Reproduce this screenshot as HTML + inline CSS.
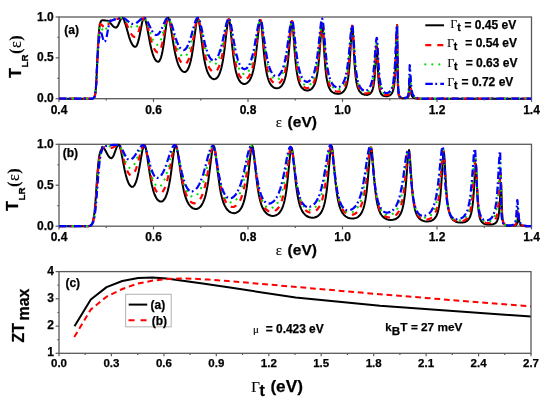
<!DOCTYPE html>
<html><head><meta charset="utf-8"><title>plot</title><style>html,body{margin:0;padding:0;background:#fff;width:550px;height:403px;overflow:hidden}svg{display:block;filter:blur(0.4px)}</style></head><body>
<svg width="550" height="403" viewBox="0 0 550 403">
<style>
text{font-family:"Liberation Sans",Arial,sans-serif;font-weight:bold;fill:#000;stroke:#000;stroke-width:0.25px}
.tl{font-size:12px}
.tlc{font-size:11.5px}
.sym{font-family:"Liberation Serif","Times New Roman",serif;font-weight:normal;stroke-width:0.15px}
</style>
<rect width="550" height="403" fill="#fff"/>
<defs>
<clipPath id="ca"><rect x="58.0" y="14.0" width="473.5" height="87.7"/></clipPath>
<rect x="59.0" y="17.0" width="472.5" height="81.7" fill="none" stroke="#5a5a5a" stroke-width="1.3"/>
<clipPath id="cb"><rect x="58.0" y="141.3" width="473.5" height="87.89999999999998"/></clipPath>
<rect x="59.0" y="144.3" width="472.5" height="81.89999999999998" fill="none" stroke="#5a5a5a" stroke-width="1.3"/>
</defs>
<rect x="59.0" y="17.0" width="472.5" height="81.7" fill="none" stroke="#5a5a5a" stroke-width="1.3"/>
<path d="M59.0 98.7L92.6 98.7L93.8 98.0L94.2 97.4L94.6 96.6L95.0 95.2L95.4 92.9L95.8 89.3L96.2 83.8L96.6 76.3L97.4 57.0L98.2 41.6L98.6 35.5L99.4 27.3L99.8 24.8L100.2 23.1L100.6 21.9L101.0 21.2L101.4 20.7L102.2 20.3L103.0 20.2L105.8 20.6L107.8 20.7L108.6 21.1L109.4 21.8L112.6 25.7L113.8 26.8L115.0 27.5L115.8 27.6L116.2 27.6L116.6 27.4L117.4 26.4L118.2 25.0L120.6 19.5L121.4 18.3L121.8 17.9L122.1 17.8L122.6 18.0L123.0 18.3L123.4 18.9L123.8 19.6L124.6 21.6L125.8 25.3L129.0 36.6L130.2 40.1L131.0 42.0L132.2 44.4L133.0 45.5L133.8 46.3L134.2 46.5L135.0 46.8L135.4 46.8L135.8 46.6L136.2 46.3L136.6 45.7L137.0 45.0L137.8 42.9L138.6 40.1L139.4 36.6L141.8 24.0L142.6 20.5L143.0 19.2L143.4 18.3L143.8 17.9L144.2 17.9L144.6 18.2L145.0 19.0L145.4 20.1L146.2 23.1L147.0 26.9L150.2 44.0L151.4 49.3L152.6 53.6L153.8 56.9L154.6 58.5L155.4 59.9L156.6 61.2L157.4 61.6L158.2 61.8L158.6 61.7L159.0 61.4L159.4 61.0L160.2 59.6L161.0 57.5L161.8 54.5L162.6 50.7L163.4 46.0L166.6 22.3L167.0 20.2L167.4 18.7L167.8 17.9L168.0 17.8L168.2 17.9L168.6 18.3L169.0 19.3L169.8 22.2L171.0 28.8L173.0 41.6L174.2 48.6L175.4 54.6L177.0 60.8L177.8 63.3L178.6 65.4L179.4 67.1L180.6 69.2L181.4 70.2L182.6 71.3L183.4 71.7L184.6 72.0L185.4 71.9L186.2 71.4L187.0 70.6L187.8 69.4L188.6 67.8L189.4 65.7L190.6 61.5L191.8 55.8L193.0 48.4L196.2 24.0L197.0 20.1L197.4 19.0L197.8 18.6L198.2 19.0L198.6 20.1L199.4 24.0L200.2 29.7L203.0 51.7L204.2 59.1L205.0 63.1L205.8 66.4L206.6 69.3L207.4 71.6L208.2 73.5L209.4 75.7L210.6 77.3L211.8 78.3L213.0 79.0L214.2 79.2L215.4 78.9L216.2 78.5L217.4 77.4L218.2 76.3L219.0 74.9L219.8 73.0L220.6 70.7L221.4 67.9L222.6 62.3L223.8 54.9L224.6 48.8L226.6 30.9L227.4 24.6L227.8 22.2L228.2 20.4L228.6 19.6L228.8 19.5L229.0 19.6L229.4 20.7L229.8 22.9L230.6 29.5L232.2 45.9L233.4 56.7L234.6 64.9L235.8 71.0L236.6 74.0L237.4 76.5L238.2 78.4L239.4 80.7L240.6 82.2L241.8 83.2L243.0 83.8L244.2 84.0L245.0 83.9L245.8 83.7L247.0 83.1L248.2 82.1L249.4 80.7L250.6 78.6L251.4 76.7L252.2 74.4L253.0 71.6L253.8 68.1L254.6 63.8L255.8 55.5L256.6 48.7L259.0 26.1L259.4 23.4L259.8 21.4L260.2 20.4L260.4 20.3L260.6 20.5L261.0 21.9L261.4 24.7L262.2 32.9L263.8 51.6L265.0 62.8L265.8 68.4L267.0 74.7L267.8 77.8L268.6 80.3L269.8 83.0L271.0 85.0L272.2 86.3L273.4 87.3L275.0 88.0L276.6 88.3L277.4 88.3L278.2 88.1L279.0 87.9L279.8 87.4L281.0 86.5L282.2 85.1L283.4 83.0L284.2 81.1L285.0 78.6L285.8 75.4L287.0 68.8L287.8 62.8L289.0 50.6L291.0 26.5L291.4 23.4L291.8 21.7L292.0 21.5L292.2 21.8L292.6 24.0L293.0 27.9L294.6 50.3L295.8 64.1L296.6 70.8L297.8 77.7L298.6 81.0L299.4 83.4L300.2 85.3L301.4 87.3L302.6 88.6L303.8 89.6L305.4 90.3L307.0 90.5L308.6 90.4L310.2 89.8L311.4 89.0L312.6 87.7L313.8 85.9L314.6 84.3L315.4 82.1L316.2 79.2L317.4 73.0L318.2 67.1L319.4 54.7L321.0 33.4L321.4 29.0L321.8 26.2L322.2 25.2L322.6 26.8L323.0 31.3L324.6 57.8L325.4 68.0L326.2 75.3L326.6 78.1L327.4 82.3L328.2 85.3L329.0 87.5L329.8 89.1L331.0 90.9L332.2 92.0L333.8 93.0L335.4 93.5L337.4 93.8L339.4 93.7L341.0 93.2L342.6 92.3L343.8 91.2L345.0 89.5L345.8 87.9L346.6 85.6L347.4 82.4L348.2 77.8L348.6 74.7L349.4 66.5L350.2 54.6L351.4 32.9L351.8 27.9L352.2 26.0L352.6 28.4L353.0 34.4L354.2 58.1L354.6 64.5L355.4 74.3L355.8 77.8L356.6 83.0L357.4 86.4L357.8 87.7L358.6 89.7L359.8 91.7L360.6 92.6L361.4 93.3L362.2 93.8L363.4 94.3L364.6 94.7L365.8 94.8L367.0 94.9L367.8 94.8L369.0 94.4L369.8 93.9L371.0 92.8L371.8 91.5L372.2 90.7L373.0 88.3L373.4 86.6L374.2 81.4L374.6 77.6L375.4 66.2L376.2 51.5L376.6 46.9L376.8 46.4L377.0 47.6L378.2 75.2L378.6 81.2L379.0 85.3L379.4 88.2L379.8 90.2L380.2 91.7L380.6 92.7L381.4 94.2L382.2 95.0L383.4 95.8L384.6 96.1L385.8 96.3L387.4 96.2L388.6 95.9L389.8 95.4L391.0 94.5L391.8 93.5L392.6 91.9L393.4 89.4L393.8 87.5L394.2 85.0L394.6 81.5L395.0 76.7L395.4 69.8L395.8 60.2L396.6 34.1L397.0 25.7L397.1 25.2L397.8 82.6L398.2 91.2L398.6 94.5L399.0 96.0L399.4 96.8L399.8 97.3L400.2 97.6L401.0 98.0L402.2 98.2L403.8 98.3L405.4 98.3L406.6 98.1L407.4 97.9L407.8 97.6L408.2 97.1L408.6 96.1L409.0 93.7L409.7 79.9L409.8 80.1L410.6 89.3L411.0 92.6L411.4 94.6L411.8 95.8L412.2 96.5L412.6 97.0L413.4 97.7L414.2 98.0L416.6 98.6L417.8 98.7L531.4 98.7" fill="none" stroke="#000000" stroke-width="2.0" stroke-linejoin="round" clip-path="url(#ca)"/>
<path d="M59.0 98.7L92.6 98.7L93.8 98.0L94.2 97.4L94.6 96.6L95.0 95.2L95.4 92.9L95.8 89.3L96.2 84.0L96.6 76.7L97.4 58.6L98.2 44.3L98.6 38.8L99.4 31.4L99.8 24.4L100.2 24.2L100.6 24.2L101.0 24.4L101.8 25.0L103.4 26.6L104.2 27.3L105.0 27.7L105.8 27.7L106.6 27.1L107.4 26.2L108.2 24.8L110.6 20.1L111.4 19.1L111.8 18.7L112.0 18.6L113.0 18.6L115.8 19.0L117.0 19.0L118.2 18.9L121.0 18.0L122.1 17.8L122.6 17.9L123.4 18.4L124.2 19.4L125.0 20.7L126.2 23.2L129.4 30.6L130.6 32.9L131.4 34.2L132.6 35.8L133.4 36.5L134.2 36.9L135.0 37.0L135.4 37.0L136.2 36.4L137.0 35.3L137.8 33.6L139.0 30.3L141.4 22.4L142.6 19.3L143.0 18.6L143.4 18.1L143.8 17.8L144.2 17.8L144.6 18.1L145.0 18.6L145.4 19.3L145.8 20.2L146.6 22.6L147.4 25.4L151.0 39.9L152.2 43.9L153.0 46.1L154.2 48.8L155.4 50.7L156.6 51.9L157.0 52.2L157.8 52.4L158.2 52.3L158.6 52.2L159.0 51.8L159.8 50.7L160.6 48.9L161.4 46.5L162.2 43.4L163.0 39.7L166.2 22.2L167.0 19.3L167.4 18.3L167.8 17.9L168.2 17.9L168.6 18.2L169.0 18.8L169.4 19.7L170.2 22.3L171.4 27.6L173.8 39.8L175.0 45.4L176.2 50.3L177.8 55.5L178.6 57.6L179.4 59.4L180.2 60.9L181.0 62.1L181.8 63.0L182.6 63.7L183.4 64.2L184.6 64.4L185.4 64.2L186.2 63.6L187.4 62.0L188.6 59.6L189.8 56.0L191.0 51.3L192.2 45.4L195.8 23.9L196.6 20.4L197.0 19.3L197.4 18.6L197.8 18.4L198.2 18.6L198.6 19.3L199.0 20.5L199.8 23.9L200.6 28.3L203.0 43.7L204.2 50.5L205.4 56.2L206.2 59.4L207.0 62.2L207.8 64.5L208.6 66.4L209.4 68.0L210.2 69.3L211.0 70.3L212.2 71.3L213.0 71.8L214.2 72.0L215.0 71.8L215.4 71.7L216.2 71.1L217.0 70.3L217.8 69.1L218.6 67.6L219.4 65.8L220.6 62.1L221.8 57.3L223.0 51.1L224.2 43.6L226.2 29.5L227.0 24.6L227.8 20.9L228.2 19.8L228.6 19.2L228.8 19.2L229.0 19.3L229.4 20.1L229.8 21.7L230.2 23.9L231.0 29.8L232.6 43.6L233.8 53.0L235.0 60.6L235.8 64.6L236.6 68.0L237.4 70.7L238.2 73.0L239.0 74.8L239.8 76.2L240.6 77.4L241.8 78.6L243.0 79.3L244.2 79.6L245.4 79.4L246.6 78.9L247.8 77.8L248.6 76.9L249.8 74.9L250.6 73.2L251.4 71.1L252.2 68.6L253.0 65.5L253.8 61.7L255.0 54.8L256.2 46.1L258.2 29.8L259.0 24.3L259.4 22.3L259.8 20.8L260.2 20.1L260.4 20.0L260.6 20.1L261.0 21.1L261.4 23.0L261.8 25.7L264.2 48.0L265.4 57.8L266.6 65.4L267.8 71.0L268.6 73.9L269.4 76.3L270.2 78.2L271.4 80.3L272.6 81.9L273.8 83.0L275.0 83.6L275.8 83.9L276.6 84.0L277.8 83.9L279.0 83.4L280.2 82.4L281.4 81.0L282.6 78.9L283.4 77.0L284.2 74.7L285.0 71.7L286.2 65.8L287.4 57.8L288.6 47.2L290.2 31.0L291.0 24.4L291.4 22.3L291.8 21.2L292.0 21.1L292.2 21.3L292.6 23.0L293.0 26.0L295.0 49.9L296.2 62.1L297.0 68.2L298.2 74.9L299.0 78.1L299.8 80.6L300.6 82.6L301.8 84.7L303.0 86.2L304.2 87.2L305.4 87.8L306.2 88.0L307.0 88.1L307.8 88.0L308.6 87.9L309.8 87.4L311.0 86.5L312.2 85.1L313.4 83.2L314.2 81.4L315.0 79.1L315.8 76.1L317.0 70.0L317.8 64.4L319.0 53.1L321.0 29.6L321.4 26.1L321.8 23.8L322.2 23.0L322.6 24.2L323.0 27.5L325.0 55.3L325.8 64.4L326.6 71.3L327.0 74.1L327.8 78.5L328.6 81.8L329.4 84.2L330.2 86.1L331.4 88.1L332.6 89.5L333.4 90.2L334.2 90.7L335.8 91.3L337.4 91.6L339.0 91.5L340.6 91.0L341.8 90.2L343.0 89.1L344.2 87.4L345.0 85.8L345.8 83.6L346.6 80.7L347.4 76.8L347.8 74.2L348.6 67.8L349.8 53.7L351.4 30.5L351.8 27.0L352.2 25.7L352.6 27.6L353.0 32.3L354.6 59.1L355.0 64.6L355.8 73.0L356.2 76.3L357.0 81.2L357.8 84.6L358.2 85.9L359.0 88.0L360.2 90.1L361.0 91.1L361.8 91.8L362.6 92.4L363.8 93.0L365.0 93.3L366.2 93.4L367.0 93.4L367.8 93.2L368.6 92.9L369.4 92.4L370.6 91.1L371.4 89.7L371.8 88.7L372.6 86.2L373.0 84.5L373.8 79.5L374.2 76.1L375.0 66.4L376.2 47.4L376.6 43.9L376.8 43.6L377.0 44.4L377.4 50.9L378.2 68.7L378.6 75.5L379.0 80.4L379.4 84.0L379.8 86.6L380.6 90.1L381.0 91.2L381.8 92.8L382.6 93.8L383.4 94.4L384.6 95.0L385.8 95.2L387.4 95.0L388.6 94.7L389.8 94.0L391.0 92.7L391.8 91.4L392.6 89.4L393.4 86.1L393.8 83.7L394.6 76.5L395.0 70.9L395.8 53.9L396.6 31.8L397.0 25.5L397.1 25.2L397.8 79.4L398.2 89.4L398.6 93.4L399.0 95.3L399.4 96.3L399.8 96.9L400.6 97.6L401.4 97.9L402.6 98.1L404.2 98.2L405.8 98.1L406.6 97.9L407.4 97.5L407.8 97.1L408.2 96.4L408.6 94.9L409.0 91.5L409.7 75.0L409.8 75.2L410.2 79.7L410.6 85.6L411.0 89.9L411.4 92.6L411.8 94.3L412.2 95.4L412.6 96.2L413.4 97.1L414.6 97.8L417.0 98.5L419.0 98.7L531.4 98.7" fill="none" stroke="#ff0000" stroke-width="2.2" stroke-dasharray="6 6" stroke-linejoin="round" clip-path="url(#ca)"/>
<path d="M59.0 98.7L92.6 98.7L93.8 97.9L94.2 97.4L94.6 96.5L95.0 95.0L95.4 92.7L95.8 89.0L96.2 83.5L96.6 76.2L97.8 51.2L98.6 39.5L99.0 35.5L99.4 32.5L99.6 26.0L99.8 25.9L100.2 26.0L100.6 26.3L101.4 27.6L102.6 30.1L103.4 31.3L103.8 31.7L104.2 31.8L104.6 31.7L105.0 31.3L105.8 29.9L106.6 27.7L108.2 22.6L109.0 20.8L109.4 20.3L122.1 17.8L122.6 17.9L123.4 18.1L124.2 18.6L125.0 19.4L126.2 20.7L129.8 25.3L131.4 26.9L132.2 27.5L133.0 27.9L134.2 28.2L135.0 28.1L135.4 27.9L136.2 27.4L137.0 26.6L138.2 25.0L141.0 20.4L142.2 18.8L143.0 18.1L143.4 17.9L144.0 17.8L144.6 18.0L145.4 18.9L145.8 19.6L146.6 21.4L147.8 24.8L151.0 35.1L152.2 38.3L153.0 40.2L154.2 42.4L155.4 43.9L156.2 44.5L156.6 44.7L157.4 44.8L158.2 44.5L159.0 43.7L159.8 42.4L160.6 40.6L161.4 38.3L162.2 35.6L165.0 24.6L166.2 20.5L167.0 18.7L167.4 18.1L167.8 17.9L168.0 17.8L168.6 18.1L169.0 18.5L169.4 19.2L169.8 20.1L170.6 22.4L171.8 26.7L175.4 41.4L176.6 45.5L177.8 49.0L179.0 51.8L179.8 53.3L180.6 54.5L181.4 55.5L182.2 56.2L183.0 56.6L183.8 56.8L184.6 56.7L185.0 56.5L185.8 55.9L186.2 55.5L187.4 53.7L188.6 51.0L189.8 47.5L191.0 43.1L192.2 37.9L194.6 26.5L195.8 21.7L196.6 19.4L197.0 18.7L197.4 18.2L197.8 18.1L198.2 18.3L198.6 18.8L199.0 19.6L199.4 20.7L200.2 23.6L201.0 27.2L204.6 45.4L206.2 51.9L207.4 55.7L208.2 57.9L209.0 59.7L209.8 61.1L210.6 62.3L211.4 63.2L212.2 63.8L213.0 64.2L213.8 64.4L214.6 64.3L215.4 63.9L216.2 63.2L217.0 62.2L217.8 60.9L218.6 59.3L219.8 56.1L221.0 52.0L222.2 47.0L223.4 41.0L225.8 27.9L227.0 22.5L227.8 20.0L228.2 19.3L228.6 18.9L229.0 19.0L229.4 19.6L229.8 20.7L230.6 24.4L234.6 51.3L235.8 57.6L237.0 62.7L237.8 65.4L238.6 67.6L239.4 69.4L240.2 70.9L241.0 72.1L242.2 73.3L243.0 73.8L244.2 74.2L245.4 74.0L246.2 73.7L247.4 72.7L248.2 71.8L249.4 69.8L250.2 68.1L251.0 66.0L251.8 63.5L252.6 60.6L253.4 57.1L254.6 50.8L255.8 43.3L257.8 29.5L258.6 24.8L259.4 21.4L259.8 20.3L260.2 19.8L260.4 19.7L260.6 19.8L261.0 20.6L261.4 22.0L261.8 24.0L262.6 29.5L264.6 45.7L265.8 54.4L267.0 61.4L267.8 65.1L268.6 68.3L269.4 70.8L270.2 73.0L271.0 74.7L272.2 76.7L273.0 77.7L274.2 78.8L275.4 79.4L276.6 79.6L277.8 79.4L279.0 78.7L280.2 77.5L281.0 76.4L281.8 75.0L282.6 73.2L283.4 71.1L284.2 68.4L285.0 65.1L285.8 61.1L287.0 53.7L288.2 44.5L289.8 31.0L290.6 25.2L291.0 23.1L291.4 21.6L291.8 20.8L292.0 20.7L292.2 20.8L292.6 22.2L293.0 24.6L293.8 32.1L295.4 49.8L296.2 57.4L297.4 66.3L298.6 72.7L299.4 75.8L300.2 78.3L301.0 80.2L302.2 82.4L303.4 83.9L304.6 84.9L305.8 85.4L307.0 85.6L308.2 85.5L309.4 85.0L310.6 84.1L311.8 82.7L313.0 80.6L313.8 78.8L314.6 76.5L315.4 73.5L316.6 67.6L317.4 62.3L318.6 51.9L321.0 26.4L321.4 23.4L321.8 21.5L322.2 20.8L322.6 21.8L323.0 24.5L323.4 28.5L325.0 49.4L326.2 62.5L327.0 68.9L328.2 75.9L329.0 79.2L329.8 81.7L330.6 83.7L331.8 85.9L333.0 87.3L334.2 88.3L335.0 88.8L335.8 89.1L337.4 89.4L338.2 89.4L339.0 89.3L340.2 88.8L341.4 88.0L342.6 86.8L343.8 84.9L344.6 83.2L345.4 80.9L346.2 78.0L347.4 71.7L348.2 65.7L349.4 53.4L351.0 33.0L351.4 29.0L351.8 26.3L352.2 25.4L352.6 27.1L353.0 31.1L354.6 56.0L355.0 61.4L355.8 70.0L356.6 76.2L357.4 80.7L358.2 83.8L359.4 87.0L360.6 89.1L361.4 90.0L362.2 90.7L363.0 91.2L363.8 91.6L364.6 91.8L365.8 92.0L366.6 91.9L367.4 91.7L368.2 91.3L369.0 90.7L370.2 89.2L371.0 87.6L371.4 86.6L372.2 83.9L372.6 82.1L373.4 77.3L373.8 74.1L374.6 65.6L376.2 43.7L376.6 41.0L376.8 40.7L377.0 41.3L377.4 46.6L378.2 63.0L379.0 75.5L379.4 79.8L380.2 85.4L380.6 87.3L381.4 89.9L381.8 90.8L382.6 92.1L383.4 93.0L384.2 93.5L385.0 93.9L386.2 94.1L387.0 94.0L387.8 93.9L389.0 93.3L390.2 92.3L391.0 91.2L391.8 89.6L392.2 88.6L393.0 85.6L393.4 83.4L394.2 77.2L395.0 66.8L395.4 59.3L396.6 30.6L397.0 25.5L397.1 25.2L397.8 76.7L398.2 87.9L398.6 92.4L399.0 94.6L399.4 95.8L399.8 96.6L400.6 97.3L401.4 97.7L402.6 98.0L404.2 98.0L405.8 97.9L406.6 97.6L407.4 97.1L407.8 96.5L408.2 95.6L408.6 93.6L409.0 89.1L409.7 70.1L409.8 70.3L410.2 75.0L411.0 86.8L411.4 90.3L411.8 92.5L412.2 94.1L412.6 95.1L413.0 95.8L413.8 96.8L415.0 97.5L417.8 98.4L419.8 98.7L531.4 98.7" fill="none" stroke="#00e000" stroke-width="2.2" stroke-dasharray="0.01 7" stroke-linecap="round" stroke-linejoin="round" clip-path="url(#ca)"/>
<path d="M59.0 98.7L92.6 98.7L93.8 97.9L94.2 97.4L94.6 96.5L95.0 95.0L95.4 92.7L95.8 89.1L96.2 83.8L97.4 60.4L98.2 47.8L99.0 39.4L99.4 36.7L99.8 34.8L99.9 30.9L100.2 30.8L100.6 31.1L101.0 31.9L101.4 33.0L103.0 38.8L103.8 40.9L104.2 41.4L104.6 41.6L105.0 41.5L105.4 40.9L105.8 40.0L106.6 37.1L109.0 24.0L109.4 22.4L109.8 21.4L110.0 21.1L115.8 19.1L122.1 17.8L123.4 18.0L124.6 18.6L125.8 19.4L129.0 22.0L130.2 22.9L131.8 23.7L132.6 23.9L133.4 24.0L134.6 23.9L135.4 23.6L136.2 23.2L137.8 22.0L140.6 19.4L142.2 18.3L143.4 17.9L144.0 17.8L144.6 17.9L145.0 18.2L145.8 18.9L147.0 20.6L148.2 23.0L151.0 28.9L152.2 31.1L153.0 32.4L154.2 33.8L155.0 34.5L155.8 34.9L156.6 35.0L157.4 34.8L158.2 34.3L159.0 33.5L160.2 31.7L161.8 28.5L164.6 22.0L165.4 20.4L166.2 19.1L167.0 18.2L167.4 18.0L168.0 17.8L168.6 18.0L169.0 18.4L169.8 19.6L171.0 22.5L172.2 26.2L175.8 38.4L177.0 41.8L178.2 44.7L179.4 47.0L180.6 48.6L181.8 49.7L182.6 50.1L183.4 50.2L184.2 50.0L184.6 49.8L185.8 48.8L187.0 47.1L187.8 45.6L189.0 42.7L190.2 39.2L191.4 35.2L194.2 25.0L195.4 21.3L196.2 19.4L197.0 18.2L197.4 17.9L197.8 17.8L198.2 18.0L198.6 18.4L199.0 19.1L199.4 20.0L200.2 22.6L201.4 27.6L203.8 38.9L205.0 44.1L206.2 48.6L207.4 52.3L208.6 55.2L209.4 56.8L210.2 58.1L211.0 59.1L211.8 59.8L212.6 60.2L213.4 60.4L214.2 60.3L215.0 59.9L215.8 59.3L216.6 58.4L217.4 57.2L218.2 55.6L219.4 52.7L220.6 49.0L221.8 44.4L223.0 39.2L225.4 27.7L226.6 22.8L227.4 20.4L227.8 19.5L228.2 19.0L228.6 18.7L229.0 18.7L229.4 19.1L229.8 20.0L230.6 22.8L231.8 29.0L233.8 41.1L235.0 47.8L236.2 53.5L237.8 59.5L238.6 61.9L239.4 63.8L240.2 65.4L241.0 66.7L241.8 67.7L242.6 68.4L243.4 68.9L244.6 69.1L245.8 68.8L246.6 68.3L247.4 67.6L248.2 66.6L249.0 65.3L249.8 63.7L250.6 61.7L251.4 59.4L253.0 53.5L254.2 47.8L257.4 29.4L258.6 23.4L259.4 20.7L259.8 19.9L260.2 19.5L260.4 19.5L260.6 19.5L261.0 20.2L261.4 21.4L262.2 25.3L265.8 50.7L267.0 57.6L267.8 61.4L268.6 64.6L269.4 67.3L270.2 69.5L271.0 71.3L272.2 73.4L273.0 74.5L274.2 75.6L275.0 76.0L276.2 76.3L277.4 76.1L278.2 75.8L279.4 74.8L280.2 73.8L281.4 71.8L282.2 70.1L283.0 67.9L283.8 65.3L284.6 62.2L285.4 58.5L286.6 51.7L289.8 28.7L290.6 23.9L291.0 22.2L291.4 21.0L291.8 20.3L292.0 20.3L292.2 20.4L292.6 21.3L293.0 23.2L293.4 25.8L296.6 54.5L297.8 62.7L299.0 68.8L299.8 71.9L300.6 74.4L301.4 76.4L302.6 78.6L303.4 79.7L304.6 80.9L305.8 81.6L307.0 81.8L308.2 81.6L309.4 81.0L310.6 79.9L311.4 78.8L312.6 76.6L313.4 74.7L314.2 72.3L315.0 69.3L316.2 63.4L317.4 55.4L318.6 45.2L320.2 29.6L321.0 23.0L321.4 20.7L321.8 19.2L322.2 18.6L322.6 19.5L323.0 21.8L323.4 25.3L325.4 49.3L326.6 61.2L327.4 67.2L328.6 73.9L329.4 77.1L330.2 79.6L331.0 81.6L332.2 83.8L333.4 85.3L334.6 86.3L335.8 87.0L336.6 87.2L337.4 87.3L338.6 87.1L339.8 86.7L341.0 85.8L342.2 84.5L343.4 82.6L344.2 80.8L345.0 78.5L345.8 75.6L347.0 69.5L347.8 64.1L349.0 53.2L351.0 31.1L351.4 27.9L351.8 25.8L352.2 25.2L352.6 26.6L353.0 30.4L355.0 59.3L355.4 63.9L356.2 71.4L357.0 76.8L357.8 80.7L358.6 83.6L359.8 86.5L361.0 88.3L361.8 89.2L362.6 89.8L363.4 90.2L364.2 90.4L365.0 90.5L365.8 90.5L366.6 90.3L367.4 89.9L368.6 88.9L369.8 87.2L370.6 85.5L371.0 84.4L371.8 81.7L372.2 79.9L373.0 75.2L373.4 72.2L374.2 64.5L375.8 44.2L376.2 40.2L376.6 38.0L376.8 37.8L377.0 38.3L377.4 42.8L378.6 64.9L379.0 70.8L379.8 79.2L380.6 84.3L381.0 86.1L381.8 88.7L382.2 89.6L383.0 90.9L383.8 91.9L384.6 92.4L385.4 92.8L386.6 93.0L387.8 92.8L389.0 92.2L390.2 91.1L391.0 89.9L391.8 88.1L392.2 86.9L393.0 83.5L393.4 81.2L394.2 74.5L395.0 63.7L396.6 29.8L397.0 25.4L397.1 25.2L397.8 74.5L398.2 86.5L398.6 91.5L399.0 94.0L399.4 95.4L399.8 96.2L400.2 96.7L401.0 97.3L402.2 97.7L403.4 97.9L405.0 97.8L406.2 97.6L407.0 97.1L407.4 96.7L407.8 96.0L408.2 94.7L408.6 92.2L409.0 86.6L409.7 65.2L409.8 65.4L410.2 70.2L411.0 83.3L411.4 87.6L411.8 90.5L412.2 92.4L412.6 93.8L413.0 94.8L413.4 95.5L414.2 96.5L415.4 97.3L418.2 98.3L420.6 98.7L531.4 98.7" fill="none" stroke="#0000ff" stroke-width="2.2" stroke-dasharray="7.5 2.5 1.8 3.2" stroke-linejoin="round" clip-path="url(#ca)"/>
<line x1="59.0" y1="98.7" x2="59.0" y2="101.9" stroke="#5a5a5a" stroke-width="1.2"/>
<line x1="106.2" y1="98.7" x2="106.2" y2="100.5" stroke="#5a5a5a" stroke-width="1.2"/>
<line x1="153.5" y1="98.7" x2="153.5" y2="101.9" stroke="#5a5a5a" stroke-width="1.2"/>
<line x1="200.8" y1="98.7" x2="200.8" y2="100.5" stroke="#5a5a5a" stroke-width="1.2"/>
<line x1="248.0" y1="98.7" x2="248.0" y2="101.9" stroke="#5a5a5a" stroke-width="1.2"/>
<line x1="295.3" y1="98.7" x2="295.3" y2="100.5" stroke="#5a5a5a" stroke-width="1.2"/>
<line x1="342.5" y1="98.7" x2="342.5" y2="101.9" stroke="#5a5a5a" stroke-width="1.2"/>
<line x1="389.8" y1="98.7" x2="389.8" y2="100.5" stroke="#5a5a5a" stroke-width="1.2"/>
<line x1="437.0" y1="98.7" x2="437.0" y2="101.9" stroke="#5a5a5a" stroke-width="1.2"/>
<line x1="484.3" y1="98.7" x2="484.3" y2="100.5" stroke="#5a5a5a" stroke-width="1.2"/>
<line x1="531.5" y1="98.7" x2="531.5" y2="101.9" stroke="#5a5a5a" stroke-width="1.2"/>
<line x1="59.0" y1="98.7" x2="55.6" y2="98.7" stroke="#5a5a5a" stroke-width="1.2"/>
<line x1="59.0" y1="78.3" x2="57.4" y2="78.3" stroke="#5a5a5a" stroke-width="1.2"/>
<line x1="59.0" y1="57.9" x2="55.6" y2="57.9" stroke="#5a5a5a" stroke-width="1.2"/>
<line x1="59.0" y1="37.4" x2="57.4" y2="37.4" stroke="#5a5a5a" stroke-width="1.2"/>
<line x1="59.0" y1="17.0" x2="55.6" y2="17.0" stroke="#5a5a5a" stroke-width="1.2"/>
<text x="59.0" y="114.0" text-anchor="middle" class="tl">0.4</text>
<text x="153.5" y="114.0" text-anchor="middle" class="tl">0.6</text>
<text x="248.0" y="114.0" text-anchor="middle" class="tl">0.8</text>
<text x="342.5" y="114.0" text-anchor="middle" class="tl">1.0</text>
<text x="437.0" y="114.0" text-anchor="middle" class="tl">1.2</text>
<text x="531.5" y="114.0" text-anchor="middle" class="tl">1.4</text>
<text x="53.7" y="102.2" text-anchor="end" class="tl">0.0</text>
<text x="53.7" y="61.4" text-anchor="end" class="tl">0.5</text>
<text x="53.7" y="20.5" text-anchor="end" class="tl">1.0</text>
<rect x="59.0" y="144.3" width="472.5" height="81.89999999999998" fill="none" stroke="#5a5a5a" stroke-width="1.3"/>
<path d="M59.0 226.2L88.6 226.2L89.0 225.9L89.8 225.7L90.6 225.3L91.4 224.6L91.8 224.1L92.6 222.4L93.4 219.5L94.2 214.6L94.6 211.3L95.4 202.5L97.4 173.9L98.2 164.4L99.0 157.7L99.4 155.3L100.2 152.0L101.0 150.0L101.4 149.4L102.2 148.6L102.4 147.6L103.0 147.6L103.4 147.8L104.2 148.6L105.0 149.8L107.8 155.0L109.0 156.8L109.8 157.6L110.6 158.1L111.4 158.2L111.8 158.1L112.6 157.3L113.0 156.7L113.8 155.1L116.2 148.5L117.0 146.5L117.8 145.2L118.2 144.8L118.5 144.7L119.0 145.0L119.4 145.6L119.8 146.6L120.6 149.4L121.4 153.0L124.6 169.7L125.8 174.9L127.0 179.1L128.2 182.4L129.4 184.7L130.6 186.2L131.4 186.7L132.2 186.9L133.0 186.7L133.4 186.4L134.2 185.6L134.6 185.0L135.8 182.4L136.6 180.1L137.4 177.2L138.6 171.9L139.8 165.4L141.8 153.5L142.6 149.4L143.4 146.5L143.8 145.6L144.2 145.2L144.4 145.1L144.6 145.2L145.0 145.7L145.4 146.8L145.8 148.3L146.6 152.4L149.4 171.3L150.6 178.7L151.8 184.8L153.0 189.6L153.8 192.3L154.6 194.5L155.4 196.3L156.6 198.5L157.4 199.6L158.6 200.7L159.8 201.4L161.0 201.6L161.8 201.5L162.2 201.3L163.0 200.8L163.8 200.0L164.6 198.9L165.4 197.5L166.2 195.7L167.0 193.4L167.8 190.7L169.0 185.4L170.2 178.7L171.4 170.3L173.4 154.8L174.2 149.6L174.6 147.6L175.0 146.1L175.4 145.3L175.8 145.1L176.2 145.6L176.6 146.6L177.4 150.1L178.2 155.0L181.0 175.4L182.2 182.9L183.8 190.8L184.6 194.0L185.4 196.7L186.2 199.0L187.4 201.8L188.6 204.0L189.8 205.6L191.0 206.9L192.6 208.1L194.2 208.8L195.8 209.0L196.6 208.9L197.4 208.8L198.6 208.2L199.8 207.3L201.0 206.0L202.2 204.1L203.0 202.6L204.2 199.6L205.0 197.2L205.8 194.2L206.6 190.6L207.4 186.4L208.2 181.5L209.4 172.7L211.4 156.3L212.2 150.7L212.6 148.6L213.0 147.0L213.4 146.1L213.7 145.9L213.8 146.0L214.2 146.5L214.6 147.9L215.4 152.4L218.2 175.9L219.8 187.2L221.0 193.7L221.8 197.1L222.6 200.0L223.4 202.5L224.6 205.4L225.8 207.6L227.4 209.8L229.0 211.4L230.6 212.4L232.2 212.9L233.0 213.1L234.2 213.2L235.8 212.9L237.4 212.2L239.0 211.0L240.2 209.6L241.4 207.8L242.2 206.2L243.4 203.1L244.2 200.4L245.4 195.3L246.6 188.5L247.4 182.7L248.2 176.0L250.6 153.2L251.4 147.9L251.8 146.4L252.2 145.9L252.6 146.4L253.0 147.9L253.8 153.1L256.2 175.9L257.0 182.7L257.8 188.5L259.0 195.6L259.8 199.3L260.6 202.3L261.4 204.8L262.6 207.8L263.8 210.1L265.4 212.2L267.0 213.8L267.8 214.3L269.0 215.0L271.0 215.7L273.0 215.9L274.2 215.8L275.0 215.6L276.6 215.0L278.2 214.0L279.4 212.8L280.6 211.2L281.8 209.1L283.0 206.1L283.8 203.5L284.6 200.4L285.4 196.4L286.6 188.6L287.8 178.2L290.2 153.5L290.6 150.5L291.0 148.5L291.4 147.6L291.5 147.6L291.8 147.9L292.2 149.3L293.0 154.8L295.4 179.2L296.2 186.2L297.0 192.0L298.2 198.9L299.0 202.4L299.8 205.3L301.0 208.6L302.2 211.1L303.4 212.9L305.0 214.7L306.6 216.0L308.6 217.0L310.6 217.5L312.6 217.7L314.6 217.5L316.6 216.8L318.2 215.8L319.8 214.3L321.0 212.7L322.2 210.5L323.4 207.5L324.2 204.8L325.0 201.4L325.8 197.1L327.0 188.5L328.2 176.7L330.2 153.1L330.6 149.6L331.0 147.1L331.4 146.0L331.5 145.9L331.8 146.3L332.2 148.0L332.6 150.8L333.4 158.8L335.4 181.2L336.6 191.5L337.8 199.0L338.6 202.8L339.4 205.9L340.2 208.3L341.4 211.1L342.6 213.2L344.2 215.2L345.8 216.5L347.8 217.7L349.8 218.3L352.2 218.6L354.2 218.4L356.2 217.9L357.4 217.3L358.2 216.8L359.8 215.3L361.0 213.7L362.2 211.5L363.4 208.5L364.2 205.7L365.4 200.1L366.6 191.9L367.8 180.2L369.8 155.5L370.2 151.6L370.6 148.9L371.0 147.6L371.1 147.6L371.4 148.1L371.8 150.2L372.2 153.8L374.2 178.9L375.4 191.3L376.6 200.0L377.4 204.2L378.2 207.5L379.0 210.0L380.2 212.9L381.4 215.0L382.2 216.0L383.0 216.9L384.6 218.1L386.6 219.2L388.6 219.7L391.0 220.0L393.0 219.8L395.0 219.3L396.6 218.5L398.2 217.2L399.4 215.8L400.6 213.8L401.8 210.9L402.6 208.3L403.8 202.6L405.0 193.9L406.2 180.8L407.8 158.6L408.2 154.1L408.6 151.1L409.0 150.0L409.4 151.3L409.8 155.0L411.8 184.7L412.6 194.0L413.0 197.7L413.8 203.6L414.2 205.9L415.0 209.6L415.8 212.3L417.0 215.3L418.2 217.2L419.4 218.6L421.0 219.8L422.6 220.6L424.6 221.2L427.0 221.4L429.0 221.3L431.0 220.9L432.6 220.2L433.4 219.6L434.2 218.9L435.4 217.5L436.6 215.4L437.4 213.4L438.2 210.6L439.0 206.7L439.4 204.3L440.2 197.8L440.6 193.5L441.4 182.7L443.0 156.3L443.4 152.6L443.7 151.7L443.8 151.8L444.2 154.6L444.6 160.1L445.8 181.8L446.6 193.6L447.0 198.1L447.8 205.0L448.2 207.6L449.0 211.5L449.4 213.0L450.2 215.4L451.0 217.2L451.8 218.5L452.6 219.5L453.4 220.2L454.2 220.8L455.4 221.5L456.6 222.0L457.8 222.3L459.4 222.5L461.0 222.6L462.6 222.5L463.8 222.3L465.0 222.0L466.2 221.4L467.0 220.9L467.8 220.2L469.0 218.8L469.8 217.3L470.2 216.4L471.0 214.0L471.8 210.5L472.6 205.2L473.0 201.6L473.8 191.9L475.4 166.6L475.8 164.0L475.9 164.0L476.2 166.5L477.4 195.0L477.8 202.2L478.2 207.4L478.6 211.3L479.4 216.2L479.8 217.9L480.6 220.1L481.0 220.8L481.8 222.0L483.0 223.1L483.8 223.5L485.0 224.0L487.4 224.4L489.0 224.6L490.6 224.5L493.0 224.2L494.6 223.6L495.8 222.8L496.6 221.9L497.0 221.2L497.8 219.2L498.2 217.7L498.6 215.7L499.0 212.8L499.4 208.7L499.8 203.1L500.6 187.7L501.0 183.0L501.1 182.8L501.4 189.8L501.8 204.8L502.2 213.9L502.6 218.6L503.0 221.1L503.4 222.6L503.8 223.5L504.2 224.1L505.0 224.8L505.8 225.2L507.0 225.5L508.2 225.7L511.0 225.8L513.4 225.7L515.0 225.5L515.8 225.1L516.2 224.8L516.6 224.3L517.0 223.3L517.4 221.6L518.2 214.0L518.3 213.9L518.6 215.4L519.0 219.2L519.4 222.0L519.8 223.5L520.2 224.4L520.6 224.9L521.0 225.2L521.8 225.6L524.2 226.1L525.4 226.2L531.4 226.2" fill="none" stroke="#000000" stroke-width="2.0" stroke-linejoin="round" clip-path="url(#cb)"/>
<path d="M59.0 226.2L88.6 226.2L89.0 226.0L89.8 225.8L90.6 225.4L91.4 224.8L91.8 224.3L92.6 222.8L93.4 220.3L94.2 216.2L94.6 213.3L95.0 209.8L95.8 200.8L97.8 173.0L98.6 164.0L99.4 157.6L99.8 155.3L100.6 151.9L101.4 149.9L102.2 148.7L102.4 147.3L104.2 147.2L109.0 148.0L110.2 148.1L111.4 148.0L113.0 147.5L116.6 145.4L117.4 145.0L118.5 144.7L119.0 144.9L119.4 145.3L119.8 146.0L120.2 146.8L121.0 149.0L122.2 153.3L125.0 164.1L126.2 167.9L127.0 170.1L128.2 172.7L129.0 173.9L129.4 174.4L130.2 175.1L130.6 175.3L131.4 175.4L132.2 175.2L132.6 174.9L133.4 174.1L134.2 172.9L135.0 171.4L136.2 168.3L137.4 164.6L140.6 152.4L141.8 148.4L142.6 146.5L143.0 145.8L143.4 145.4L144.0 145.1L144.2 145.2L144.6 145.5L145.0 146.3L145.4 147.4L146.2 150.5L147.0 154.4L149.4 168.0L150.6 174.2L151.8 179.4L153.0 183.7L153.8 186.1L154.6 188.1L155.4 189.7L156.2 191.0L157.0 192.0L157.8 192.8L158.6 193.2L159.0 193.4L159.8 193.4L160.6 193.3L161.4 192.8L162.2 192.1L163.0 191.2L163.8 189.9L164.6 188.3L165.4 186.4L166.2 184.1L167.4 179.8L168.6 174.6L169.8 168.5L172.2 155.0L173.4 149.2L174.2 146.5L174.6 145.7L175.0 145.2L175.4 145.1L175.8 145.5L176.2 146.3L176.6 147.4L177.4 150.8L178.2 155.3L180.6 170.5L181.8 177.4L183.4 185.1L185.0 191.0L185.8 193.4L187.0 196.3L187.8 197.9L189.0 199.8L190.2 201.3L191.4 202.3L192.6 202.9L193.4 203.2L194.2 203.3L195.0 203.2L195.8 203.0L197.0 202.5L198.2 201.5L199.4 200.2L200.6 198.4L201.4 196.9L202.6 194.1L203.4 191.8L205.0 186.2L206.6 178.8L207.8 172.1L210.6 154.7L211.4 150.6L212.2 147.5L212.6 146.6L213.0 146.1L213.4 146.0L213.8 146.4L214.2 147.3L215.0 150.5L216.2 157.8L218.6 174.6L219.8 181.9L221.4 189.6L223.0 195.4L223.8 197.6L225.0 200.4L226.2 202.5L227.4 204.2L228.6 205.4L229.8 206.2L231.0 206.7L231.8 206.9L232.6 207.0L233.4 206.9L234.2 206.7L235.4 206.1L236.6 205.3L237.8 204.0L239.0 202.4L240.2 200.2L241.4 197.4L242.2 195.1L243.8 189.2L245.4 181.3L246.6 174.0L249.4 154.5L250.2 150.0L251.0 147.0L251.4 146.2L251.8 145.9L252.2 146.3L252.6 147.4L253.4 151.5L254.2 157.4L256.2 174.2L257.4 183.0L258.2 187.9L259.0 192.1L259.8 195.7L260.6 198.7L261.4 201.2L262.6 204.2L263.8 206.5L265.0 208.2L266.6 209.9L268.2 211.0L269.8 211.7L271.4 211.9L273.0 211.7L274.6 211.1L276.2 210.1L277.8 208.5L279.0 206.8L280.2 204.6L281.4 201.7L282.2 199.3L283.0 196.4L283.8 193.0L284.6 188.9L285.4 184.2L286.6 175.7L289.0 156.1L289.8 150.9L290.2 149.1L290.6 147.9L291.0 147.3L291.1 147.3L291.4 147.5L291.8 148.4L292.2 150.0L292.6 152.2L293.4 157.9L295.4 174.7L296.6 183.5L297.4 188.4L298.2 192.7L299.0 196.2L299.8 199.2L300.6 201.7L301.8 204.7L303.0 207.1L304.6 209.3L306.2 210.8L307.8 211.8L309.4 212.4L311.0 212.6L312.6 212.4L314.2 211.9L315.8 210.9L317.4 209.4L319.0 207.2L320.2 205.0L321.4 202.0L322.2 199.6L323.0 196.7L323.8 193.2L325.0 186.7L326.6 175.4L329.4 152.1L330.2 147.6L330.6 146.3L331.0 145.7L331.1 145.7L331.4 146.0L331.8 147.2L332.6 152.0L335.4 178.1L336.6 187.4L337.8 194.6L338.6 198.4L339.4 201.5L340.2 204.1L341.4 207.1L342.6 209.4L343.4 210.6L344.2 211.6L345.8 213.0L347.4 214.0L349.0 214.6L351.0 214.8L352.2 214.7L353.0 214.6L354.6 214.0L356.2 213.0L357.8 211.4L359.0 209.8L360.2 207.7L361.4 204.9L362.2 202.5L363.0 199.6L363.8 196.0L365.0 189.3L365.8 183.7L366.6 177.2L368.6 158.4L369.4 152.0L369.8 149.6L370.2 148.0L370.6 147.3L370.7 147.3L371.0 147.7L371.4 149.4L371.8 152.2L372.6 160.3L374.2 178.5L375.4 189.6L376.6 197.7L377.4 201.7L378.2 205.0L379.0 207.5L380.2 210.5L381.4 212.6L382.6 214.2L384.2 215.7L385.8 216.7L387.4 217.2L389.4 217.5L391.4 217.4L393.4 216.8L395.0 215.9L396.6 214.5L397.8 213.0L399.0 211.0L400.2 208.2L401.0 205.8L401.8 202.7L402.6 198.9L403.8 191.3L405.0 180.9L407.4 155.5L407.8 152.5L408.2 150.7L408.6 150.0L409.0 151.1L409.4 154.0L409.8 158.4L411.4 180.4L412.6 193.4L413.8 202.1L415.0 207.9L415.8 210.6L416.6 212.7L417.8 214.9L419.0 216.5L419.8 217.3L420.6 218.0L422.2 218.8L423.8 219.4L425.8 219.6L427.8 219.4L429.8 218.8L431.4 217.9L432.2 217.2L433.0 216.4L434.2 214.8L435.4 212.4L436.2 210.3L437.0 207.5L438.2 201.5L439.4 192.5L440.6 179.1L442.2 157.2L442.6 153.1L443.0 150.6L443.3 150.0L443.4 150.2L443.8 152.7L444.2 157.8L445.4 178.7L446.2 190.5L447.0 199.2L447.8 205.3L448.2 207.6L449.0 211.2L449.4 212.6L450.2 214.9L451.0 216.5L451.8 217.8L452.6 218.7L453.4 219.5L454.2 220.1L455.4 220.7L456.6 221.1L458.2 221.4L459.8 221.5L461.0 221.4L462.2 221.2L463.4 220.9L464.6 220.3L465.4 219.8L466.2 219.1L467.0 218.3L468.2 216.4L469.4 213.6L470.2 210.9L471.0 207.0L471.8 201.6L472.2 198.1L473.0 189.1L474.6 165.2L475.0 160.9L475.4 158.8L475.5 158.8L475.8 160.7L476.2 167.7L477.4 193.9L478.2 204.9L479.0 211.4L479.8 215.4L480.2 216.8L481.0 218.8L481.4 219.5L482.2 220.7L483.0 221.5L483.8 222.1L484.6 222.5L485.8 222.9L487.0 223.1L488.2 223.2L489.4 223.2L490.6 223.0L491.8 222.6L492.6 222.3L493.4 221.7L494.2 221.0L495.0 220.0L495.4 219.3L496.2 217.4L497.0 214.6L497.4 212.5L498.2 206.5L499.0 196.5L500.2 175.7L500.6 172.3L500.7 172.1L501.0 181.4L501.4 200.5L501.8 211.6L502.2 217.3L502.6 220.3L503.0 222.0L503.4 223.1L503.8 223.8L504.2 224.2L505.0 224.8L506.2 225.3L507.4 225.5L509.8 225.7L512.6 225.6L514.2 225.2L515.0 224.9L515.4 224.5L515.8 224.0L516.2 223.2L516.6 221.9L517.0 219.2L517.8 209.4L517.9 209.3L518.2 211.0L519.0 219.4L519.4 221.7L519.8 223.1L520.2 224.0L520.6 224.5L521.0 224.9L521.8 225.3L524.6 226.0L526.2 226.2L531.4 226.2" fill="none" stroke="#ff0000" stroke-width="2.2" stroke-dasharray="6 6" stroke-linejoin="round" clip-path="url(#cb)"/>
<path d="M59.0 226.2L88.6 226.2L89.0 226.0L89.8 225.8L90.6 225.5L91.4 224.9L91.8 224.5L92.6 223.2L93.4 221.0L94.2 217.4L94.6 214.9L95.4 208.2L95.8 203.9L98.2 172.2L99.0 163.7L99.4 160.3L100.2 155.3L101.0 151.9L101.4 150.7L102.2 149.1L102.4 147.0L111.4 146.3L118.5 144.7L119.0 144.9L119.8 145.7L120.2 146.3L121.0 148.0L122.2 151.4L125.0 160.0L126.2 163.1L127.0 164.8L127.8 166.1L128.6 167.1L129.4 167.8L130.2 168.0L131.0 168.0L131.4 167.8L132.2 167.3L133.0 166.5L134.2 164.7L135.0 163.2L136.2 160.6L139.8 150.9L140.6 149.0L141.4 147.3L142.2 146.1L143.0 145.3L143.7 145.1L144.2 145.4L144.6 145.9L145.0 146.7L145.4 147.8L146.2 150.7L150.2 169.7L151.4 174.6L152.6 178.6L153.8 181.8L154.6 183.4L155.4 184.8L156.6 186.1L157.4 186.7L158.2 186.9L159.0 186.8L159.8 186.5L160.6 186.0L161.4 185.2L162.2 184.2L163.0 182.9L163.8 181.4L164.6 179.5L165.8 176.2L167.4 170.7L168.6 165.9L171.4 153.7L172.6 149.3L173.4 147.0L174.2 145.6L174.6 145.2L175.0 145.1L175.4 145.3L175.8 145.8L176.2 146.7L176.6 147.8L177.4 150.9L178.6 156.9L181.0 170.0L182.2 175.9L183.4 180.9L185.0 186.4L186.6 190.5L187.4 192.0L188.6 193.9L189.4 194.9L190.6 195.9L191.8 196.5L193.0 196.7L194.2 196.5L195.4 196.0L196.6 195.1L197.8 193.9L199.0 192.2L199.8 190.8L201.0 188.3L201.8 186.4L203.4 181.6L205.0 175.7L206.6 168.7L209.4 155.3L210.6 150.4L211.4 148.0L211.8 147.1L212.2 146.5L212.6 146.1L213.0 145.9L213.4 146.2L213.8 146.8L214.2 148.0L215.0 151.3L215.8 155.7L218.2 171.0L219.4 177.9L221.0 185.6L222.6 191.4L223.4 193.7L224.6 196.5L225.4 198.0L226.6 199.8L227.4 200.7L228.6 201.7L229.8 202.2L231.0 202.4L231.8 202.4L232.6 202.2L233.8 201.7L235.0 200.9L236.2 199.7L237.4 198.2L238.6 196.1L239.8 193.6L240.6 191.6L241.8 187.9L242.6 185.1L244.2 178.3L245.8 170.1L248.2 156.4L249.4 150.6L250.2 147.8L250.6 146.8L251.0 146.2L251.5 145.9L251.8 146.1L252.2 146.9L252.6 148.3L253.0 150.2L253.8 155.2L256.2 173.4L257.4 181.5L259.0 190.0L259.8 193.4L260.6 196.3L261.4 198.7L262.6 201.6L263.4 203.1L264.6 204.9L265.8 206.3L267.0 207.2L268.2 207.9L269.0 208.1L269.8 208.2L271.4 208.0L273.0 207.5L274.6 206.4L275.8 205.3L277.0 203.8L278.2 201.9L279.4 199.4L280.6 196.3L281.8 192.4L282.6 189.3L284.2 181.6L285.4 174.6L288.2 156.1L289.0 151.7L289.8 148.5L290.2 147.6L290.6 147.1L290.8 147.0L291.0 147.1L291.4 147.8L291.8 149.1L292.2 150.9L293.0 156.0L295.4 174.9L296.6 183.1L297.4 187.7L298.2 191.7L299.0 195.1L299.8 197.9L300.6 200.3L301.8 203.1L302.6 204.7L303.8 206.5L305.0 207.8L305.8 208.5L306.6 209.0L307.8 209.5L309.4 209.8L311.0 209.7L312.6 209.1L314.2 208.2L315.8 206.7L317.0 205.2L318.2 203.3L319.4 200.9L320.6 197.8L321.8 193.8L322.6 190.7L324.2 182.8L325.4 175.5L328.2 155.5L329.0 150.6L329.8 147.1L330.2 146.0L330.6 145.5L330.8 145.4L331.0 145.5L331.4 146.4L331.8 148.2L332.2 150.6L333.0 157.1L335.0 175.6L336.6 187.6L337.8 194.3L339.0 199.4L339.8 202.1L341.0 205.2L342.2 207.6L343.4 209.3L344.6 210.6L346.2 211.8L347.8 212.5L349.4 212.7L350.6 212.6L351.4 212.4L353.0 211.9L354.6 210.9L356.2 209.4L357.4 207.9L358.6 206.0L359.8 203.5L361.0 200.2L361.8 197.5L362.6 194.3L363.8 188.5L365.4 178.3L368.6 153.4L369.4 149.1L369.8 147.8L370.2 147.1L370.4 147.0L370.6 147.2L371.0 148.4L371.4 150.6L371.8 153.7L374.2 178.3L375.4 188.5L376.6 196.1L377.8 201.7L378.6 204.5L379.8 207.7L381.0 210.1L382.2 211.8L383.4 213.1L385.0 214.2L386.6 214.8L388.2 215.1L390.2 214.9L391.8 214.3L393.4 213.4L395.0 212.0L396.6 210.0L397.8 207.9L399.0 205.1L399.8 202.7L400.6 199.9L401.4 196.4L402.6 189.9L404.2 178.2L406.6 157.2L407.4 152.2L407.8 150.7L408.2 150.1L408.3 150.0L408.6 150.5L409.0 152.7L409.4 156.3L411.4 181.3L412.2 189.7L413.4 198.9L414.6 205.1L415.4 208.1L416.2 210.4L417.4 212.9L418.6 214.7L419.8 215.9L421.4 217.0L423.0 217.6L424.6 217.7L426.6 217.5L428.2 217.0L429.8 216.0L431.4 214.6L432.6 213.0L433.8 210.9L435.0 207.9L435.8 205.2L437.0 199.9L438.2 192.3L439.4 181.6L441.8 154.5L442.2 151.3L442.6 149.1L443.0 148.4L443.4 150.0L443.8 154.5L445.4 181.4L446.2 192.2L447.0 200.1L447.4 203.1L448.2 207.7L449.0 211.1L449.8 213.5L450.6 215.3L451.8 217.2L453.0 218.5L453.8 219.1L454.6 219.6L456.2 220.2L458.2 220.4L460.2 220.2L462.2 219.7L463.8 218.8L464.6 218.2L465.4 217.4L466.6 215.7L467.8 213.4L468.6 211.2L469.4 208.3L470.2 204.4L470.6 202.0L471.4 195.8L472.6 182.6L474.2 160.1L474.6 156.1L475.0 153.8L475.2 153.6L475.4 154.4L475.8 159.9L477.0 186.7L477.4 193.8L478.2 203.9L479.0 210.1L479.8 214.0L480.2 215.4L481.0 217.5L481.4 218.3L482.2 219.5L483.0 220.3L483.8 220.9L484.6 221.3L485.8 221.7L487.0 221.8L488.2 221.8L489.4 221.6L490.2 221.3L491.0 220.9L491.8 220.4L492.6 219.7L493.4 218.7L494.2 217.4L494.6 216.5L495.4 214.2L496.2 210.9L496.6 208.6L497.4 202.4L498.2 192.9L499.8 165.7L500.2 162.0L500.4 161.5L500.6 167.5L501.0 191.9L501.4 207.5L501.8 215.1L502.2 219.0L502.6 221.2L503.0 222.5L503.4 223.3L504.2 224.3L505.0 224.8L506.2 225.2L508.2 225.5L510.6 225.5L512.6 225.3L513.4 225.1L514.2 224.7L515.0 224.0L515.4 223.4L515.8 222.4L516.2 220.7L516.6 217.7L517.4 205.7L517.6 204.6L517.8 205.5L518.6 215.4L519.0 218.9L519.4 221.1L519.8 222.5L520.2 223.4L521.0 224.5L521.8 225.0L522.6 225.4L524.6 225.9L526.6 226.2L531.4 226.2" fill="none" stroke="#00e000" stroke-width="2.2" stroke-dasharray="0.01 7" stroke-linecap="round" stroke-linejoin="round" clip-path="url(#cb)"/>
<path d="M59.0 226.2L88.6 226.2L89.0 226.0L90.2 225.7L91.0 225.3L91.8 224.6L92.2 224.1L93.0 222.6L93.8 220.1L94.6 216.2L95.0 213.6L96.2 202.3L98.2 176.3L99.4 163.4L99.8 160.2L100.6 155.3L101.4 151.8L102.2 149.6L102.4 146.8L104.6 146.4L109.4 145.4L111.8 145.1L113.4 144.9L117.0 144.9L118.5 144.7L119.0 144.8L119.8 145.4L121.0 147.0L122.2 149.2L125.0 155.1L126.6 157.8L127.4 158.8L128.2 159.4L129.0 159.8L129.4 159.9L130.2 159.8L131.4 159.3L132.2 158.7L133.4 157.6L135.4 154.9L139.4 148.4L141.0 146.4L142.2 145.4L143.0 145.2L143.4 145.1L143.8 145.2L144.2 145.6L145.0 146.9L146.2 150.2L150.2 165.3L151.4 169.3L152.2 171.5L153.4 174.2L154.6 176.2L155.8 177.4L156.2 177.6L157.0 177.9L157.8 177.8L158.6 177.6L159.4 177.1L160.2 176.4L161.0 175.6L161.8 174.5L163.0 172.5L164.2 170.0L165.8 166.0L170.2 152.8L171.8 148.6L172.6 147.0L173.4 145.9L174.2 145.2L174.7 145.1L175.0 145.2L175.4 145.6L175.8 146.3L176.2 147.2L177.0 149.8L178.2 155.0L180.6 166.9L181.8 172.4L183.4 178.7L184.6 182.4L185.4 184.5L186.2 186.3L187.0 187.8L187.8 189.0L188.6 189.9L189.4 190.7L190.2 191.1L191.4 191.4L192.6 191.3L193.8 190.8L195.0 190.0L195.8 189.3L197.0 188.0L197.8 186.8L199.0 184.8L199.8 183.3L201.8 178.4L203.4 173.6L205.0 168.0L208.2 155.7L209.8 150.4L210.6 148.3L211.4 146.9L211.8 146.4L212.2 146.1L212.7 145.9L213.0 146.1L213.4 146.6L213.8 147.5L214.6 150.3L215.8 156.5L218.2 170.8L219.4 177.2L220.6 182.6L222.2 188.3L223.0 190.6L223.8 192.5L224.6 194.1L225.8 196.0L226.6 196.9L227.8 197.8L228.6 198.2L229.8 198.4L231.0 198.2L232.2 197.7L233.4 197.0L234.6 195.9L235.8 194.5L237.0 192.6L238.2 190.4L239.0 188.6L240.2 185.5L241.0 183.1L242.6 177.5L244.2 170.8L247.4 155.8L248.6 151.0L249.4 148.4L250.2 146.7L250.6 146.2L251.0 146.0L251.4 146.0L251.8 146.6L252.2 147.6L253.0 151.0L253.8 155.8L256.2 172.3L257.4 179.7L258.6 185.8L259.4 189.2L260.2 192.1L261.0 194.6L262.2 197.5L263.0 199.1L264.2 201.0L265.0 201.9L266.2 202.9L267.4 203.4L268.6 203.6L270.2 203.4L271.4 202.9L273.0 201.9L274.2 200.8L275.4 199.3L276.6 197.5L277.8 195.2L279.0 192.4L280.2 189.0L281.0 186.3L282.6 180.0L284.2 172.4L287.0 157.3L288.2 151.7L289.0 149.0L289.4 148.0L289.8 147.2L290.2 146.8L290.6 146.8L291.0 147.2L291.4 148.3L292.2 152.1L293.0 157.4L295.0 172.6L296.2 180.8L297.8 189.5L298.6 192.9L299.4 195.7L300.2 198.2L301.4 201.0L302.2 202.6L303.4 204.3L304.6 205.6L305.8 206.4L307.0 206.9L308.2 207.0L309.8 206.8L311.4 206.2L313.0 205.2L314.6 203.7L315.8 202.1L317.0 200.2L318.2 197.8L319.4 194.8L320.6 191.2L321.4 188.3L323.0 181.4L324.6 172.8L327.4 155.7L328.6 149.5L329.4 146.7L329.8 145.8L330.2 145.2L330.5 145.1L330.6 145.2L331.0 145.8L331.4 147.3L331.8 149.4L332.6 155.4L334.6 173.3L335.8 182.7L337.0 190.1L337.8 194.1L338.6 197.4L339.4 200.1L340.6 203.3L341.4 205.0L342.6 207.0L343.8 208.4L345.0 209.4L346.2 210.0L347.0 210.2L347.8 210.3L349.0 210.2L349.8 210.1L351.4 209.5L353.0 208.6L354.6 207.2L356.2 205.2L357.4 203.3L358.6 200.8L359.8 197.7L361.0 193.8L361.8 190.7L363.4 183.0L364.6 175.9L367.4 156.8L368.2 152.1L369.0 148.6L369.4 147.5L369.8 146.9L370.1 146.8L370.2 146.8L370.6 147.6L371.0 149.4L371.4 152.1L372.2 159.2L373.8 175.2L375.0 185.4L376.2 193.3L377.4 199.1L378.2 202.0L379.4 205.5L380.2 207.2L381.4 209.2L382.6 210.6L383.8 211.6L385.0 212.3L385.8 212.5L386.6 212.6L387.4 212.6L388.6 212.4L390.2 211.9L391.8 211.0L393.4 209.7L395.0 207.7L396.2 205.8L397.4 203.3L398.6 200.0L399.4 197.4L400.2 194.3L401.8 186.4L403.4 176.1L405.8 158.3L406.6 153.6L407.0 151.9L407.4 150.7L407.8 150.1L408.0 150.0L408.2 150.2L408.6 151.8L409.0 154.8L411.0 178.5L412.2 190.5L413.0 196.5L414.2 203.1L415.0 206.2L415.8 208.6L416.6 210.5L417.8 212.6L419.0 214.0L420.2 215.0L421.4 215.6L422.2 215.8L423.0 215.9L425.0 215.7L426.6 215.2L428.2 214.3L429.8 212.9L430.6 211.9L431.4 210.8L432.6 208.6L433.8 205.7L434.6 203.2L435.4 200.1L436.2 196.4L437.4 189.1L438.6 179.5L441.4 152.2L441.8 149.5L442.2 147.6L442.6 146.8L442.7 146.8L443.0 147.7L443.4 151.5L445.0 178.5L445.8 189.9L446.6 198.2L447.0 201.4L447.8 206.4L448.6 209.9L449.4 212.5L450.2 214.4L451.4 216.4L452.6 217.7L453.8 218.5L455.4 219.1L457.0 219.3L459.0 219.1L460.6 218.6L462.2 217.8L463.8 216.5L465.0 215.0L466.2 213.0L467.4 210.1L468.2 207.5L469.4 201.9L470.6 193.6L471.8 181.5L473.8 155.1L474.2 151.3L474.6 148.9L474.9 148.4L475.0 148.6L475.4 153.0L476.6 180.6L477.4 195.0L477.8 200.1L478.6 207.3L479.0 209.8L479.8 213.4L480.6 215.8L481.4 217.5L482.2 218.6L483.4 219.7L484.6 220.2L485.8 220.5L487.4 220.3L489.0 219.9L490.2 219.2L491.4 218.1L492.6 216.4L493.4 214.8L494.2 212.7L495.0 209.6L495.8 205.3L496.2 202.4L497.0 194.9L497.8 184.1L499.4 156.0L499.8 151.8L500.1 150.9L500.2 153.1L501.0 202.9L501.4 212.9L501.8 217.8L502.2 220.4L502.6 222.0L503.0 223.0L503.8 224.1L504.6 224.7L505.8 225.1L507.8 225.4L510.2 225.4L512.2 225.1L513.0 224.8L513.8 224.3L514.6 223.5L515.0 222.7L515.4 221.5L515.8 219.6L516.2 216.3L516.6 210.6L517.0 202.7L517.3 200.0L517.4 200.2L517.8 204.5L518.6 215.3L519.0 218.5L519.4 220.6L519.8 221.9L520.2 222.9L521.0 224.1L521.8 224.7L522.6 225.1L524.6 225.7L527.0 226.2L531.4 226.2" fill="none" stroke="#0000ff" stroke-width="2.2" stroke-dasharray="7.5 2.5 1.8 3.2" stroke-linejoin="round" clip-path="url(#cb)"/>
<line x1="59.0" y1="226.2" x2="59.0" y2="229.39999999999998" stroke="#5a5a5a" stroke-width="1.2"/>
<line x1="106.2" y1="226.2" x2="106.2" y2="228.0" stroke="#5a5a5a" stroke-width="1.2"/>
<line x1="153.5" y1="226.2" x2="153.5" y2="229.39999999999998" stroke="#5a5a5a" stroke-width="1.2"/>
<line x1="200.8" y1="226.2" x2="200.8" y2="228.0" stroke="#5a5a5a" stroke-width="1.2"/>
<line x1="248.0" y1="226.2" x2="248.0" y2="229.39999999999998" stroke="#5a5a5a" stroke-width="1.2"/>
<line x1="295.3" y1="226.2" x2="295.3" y2="228.0" stroke="#5a5a5a" stroke-width="1.2"/>
<line x1="342.5" y1="226.2" x2="342.5" y2="229.39999999999998" stroke="#5a5a5a" stroke-width="1.2"/>
<line x1="389.8" y1="226.2" x2="389.8" y2="228.0" stroke="#5a5a5a" stroke-width="1.2"/>
<line x1="437.0" y1="226.2" x2="437.0" y2="229.39999999999998" stroke="#5a5a5a" stroke-width="1.2"/>
<line x1="484.3" y1="226.2" x2="484.3" y2="228.0" stroke="#5a5a5a" stroke-width="1.2"/>
<line x1="531.5" y1="226.2" x2="531.5" y2="229.39999999999998" stroke="#5a5a5a" stroke-width="1.2"/>
<line x1="59.0" y1="226.2" x2="55.6" y2="226.2" stroke="#5a5a5a" stroke-width="1.2"/>
<line x1="59.0" y1="205.7" x2="57.4" y2="205.7" stroke="#5a5a5a" stroke-width="1.2"/>
<line x1="59.0" y1="185.2" x2="55.6" y2="185.2" stroke="#5a5a5a" stroke-width="1.2"/>
<line x1="59.0" y1="164.8" x2="57.4" y2="164.8" stroke="#5a5a5a" stroke-width="1.2"/>
<line x1="59.0" y1="144.3" x2="55.6" y2="144.3" stroke="#5a5a5a" stroke-width="1.2"/>
<text x="59.0" y="240.8" text-anchor="middle" class="tl">0.4</text>
<text x="153.5" y="240.8" text-anchor="middle" class="tl">0.6</text>
<text x="248.0" y="240.8" text-anchor="middle" class="tl">0.8</text>
<text x="342.5" y="240.8" text-anchor="middle" class="tl">1.0</text>
<text x="437.0" y="240.8" text-anchor="middle" class="tl">1.2</text>
<text x="531.5" y="240.8" text-anchor="middle" class="tl">1.4</text>
<text x="53.7" y="229.7" text-anchor="end" class="tl">0.0</text>
<text x="53.7" y="188.8" text-anchor="end" class="tl">0.5</text>
<text x="53.7" y="147.8" text-anchor="end" class="tl">1.0</text>
<path d="M74.5 326.2 L90.8 299.5 L106.6 287.1 L122.3 281.0 L138.2 278.0 L152.7 277.4 L166.4 278.4 L184.5 281.1 L202.7 283.5 L230.0 287.5 L295.6 297.6 L380.0 305.8 L531.0 316.6" fill="none" stroke="#000" stroke-width="2" stroke-linejoin="round"/>
<path d="M74.3 336.9 L90.8 309.5 L106.8 296.5 L122.3 289.0 L137.6 283.6 L152.9 280.6 L168.0 279.0 L180.0 278.5 L195.0 278.8 L208.2 279.6 L228.2 281.0 L380.0 294.3 L531.0 306.4" fill="none" stroke="#ff0000" stroke-width="2" stroke-dasharray="5.8 3.8"/>
<rect x="59.0" y="271.6" width="472.0" height="81.69999999999999" fill="none" stroke="#5a5a5a" stroke-width="1.3"/>
<line x1="59.0" y1="353.3" x2="59.0" y2="356.3" stroke="#5a5a5a" stroke-width="1.2"/>
<line x1="85.2" y1="353.3" x2="85.2" y2="355.1" stroke="#5a5a5a" stroke-width="1.2"/>
<line x1="111.4" y1="353.3" x2="111.4" y2="356.3" stroke="#5a5a5a" stroke-width="1.2"/>
<line x1="137.7" y1="353.3" x2="137.7" y2="355.1" stroke="#5a5a5a" stroke-width="1.2"/>
<line x1="163.9" y1="353.3" x2="163.9" y2="356.3" stroke="#5a5a5a" stroke-width="1.2"/>
<line x1="190.1" y1="353.3" x2="190.1" y2="355.1" stroke="#5a5a5a" stroke-width="1.2"/>
<line x1="216.3" y1="353.3" x2="216.3" y2="356.3" stroke="#5a5a5a" stroke-width="1.2"/>
<line x1="242.6" y1="353.3" x2="242.6" y2="355.1" stroke="#5a5a5a" stroke-width="1.2"/>
<line x1="268.8" y1="353.3" x2="268.8" y2="356.3" stroke="#5a5a5a" stroke-width="1.2"/>
<line x1="295.0" y1="353.3" x2="295.0" y2="355.1" stroke="#5a5a5a" stroke-width="1.2"/>
<line x1="321.2" y1="353.3" x2="321.2" y2="356.3" stroke="#5a5a5a" stroke-width="1.2"/>
<line x1="347.4" y1="353.3" x2="347.4" y2="355.1" stroke="#5a5a5a" stroke-width="1.2"/>
<line x1="373.7" y1="353.3" x2="373.7" y2="356.3" stroke="#5a5a5a" stroke-width="1.2"/>
<line x1="399.9" y1="353.3" x2="399.9" y2="355.1" stroke="#5a5a5a" stroke-width="1.2"/>
<line x1="426.1" y1="353.3" x2="426.1" y2="356.3" stroke="#5a5a5a" stroke-width="1.2"/>
<line x1="452.3" y1="353.3" x2="452.3" y2="355.1" stroke="#5a5a5a" stroke-width="1.2"/>
<line x1="478.6" y1="353.3" x2="478.6" y2="356.3" stroke="#5a5a5a" stroke-width="1.2"/>
<line x1="504.8" y1="353.3" x2="504.8" y2="355.1" stroke="#5a5a5a" stroke-width="1.2"/>
<line x1="531.0" y1="353.3" x2="531.0" y2="356.3" stroke="#5a5a5a" stroke-width="1.2"/>
<line x1="59.0" y1="353.3" x2="55.6" y2="353.3" stroke="#5a5a5a" stroke-width="1.2"/>
<line x1="59.0" y1="339.7" x2="57.4" y2="339.7" stroke="#5a5a5a" stroke-width="1.2"/>
<line x1="59.0" y1="326.1" x2="55.6" y2="326.1" stroke="#5a5a5a" stroke-width="1.2"/>
<line x1="59.0" y1="312.5" x2="57.4" y2="312.5" stroke="#5a5a5a" stroke-width="1.2"/>
<line x1="59.0" y1="298.8" x2="55.6" y2="298.8" stroke="#5a5a5a" stroke-width="1.2"/>
<line x1="59.0" y1="285.2" x2="57.4" y2="285.2" stroke="#5a5a5a" stroke-width="1.2"/>
<line x1="59.0" y1="271.6" x2="55.6" y2="271.6" stroke="#5a5a5a" stroke-width="1.2"/>
<text x="59.0" y="367.1" text-anchor="middle" class="tlc">0.0</text>
<text x="111.4" y="367.1" text-anchor="middle" class="tlc">0.3</text>
<text x="163.9" y="367.1" text-anchor="middle" class="tlc">0.6</text>
<text x="216.3" y="367.1" text-anchor="middle" class="tlc">0.9</text>
<text x="268.8" y="367.1" text-anchor="middle" class="tlc">1.2</text>
<text x="321.2" y="367.1" text-anchor="middle" class="tlc">1.5</text>
<text x="373.7" y="367.1" text-anchor="middle" class="tlc">1.8</text>
<text x="426.1" y="367.1" text-anchor="middle" class="tlc">2.1</text>
<text x="478.6" y="367.1" text-anchor="middle" class="tlc">2.4</text>
<text x="531.0" y="367.1" text-anchor="middle" class="tlc">2.7</text>
<text x="53.9" y="356.2" text-anchor="end" class="tl">1</text>
<text x="53.9" y="329.0" text-anchor="end" class="tl">2</text>
<text x="53.9" y="301.7" text-anchor="end" class="tl">3</text>
<text x="53.9" y="274.5" text-anchor="end" class="tl">4</text>
<text x="64.3" y="33.5" class="tl">(a)</text>
<text x="62.8" y="156.7" class="tl">(b)</text>
<text x="65.4" y="286.8" class="tl">(c)</text>
<line x1="425.3" y1="25.3" x2="444" y2="25.3" stroke="#000000" stroke-width="2.0"/>
<text x="450.6" y="27.9" class="sym" font-size="11.5">&#915;</text>
<text x="457.20000000000005" y="31.3" font-size="10.5">t</text>
<text x="464.5" y="28.5" font-size="12">= 0.45 eV</text>
<line x1="425.3" y1="45.1" x2="444" y2="45.1" stroke="#ff0000" stroke-width="2.2" stroke-dasharray="6 6"/>
<text x="447.2" y="46.699999999999996" class="sym" font-size="11.5">&#915;</text>
<text x="453.8" y="50.099999999999994" font-size="10.5">t</text>
<text x="465.3" y="47.3" font-size="12">= 0.54 eV</text>
<line x1="425.3" y1="64.4" x2="444" y2="64.4" stroke="#00e000" stroke-width="2.2" stroke-dasharray="0.01 7" stroke-linecap="round"/>
<text x="447.4" y="66.7" class="sym" font-size="11.5">&#915;</text>
<text x="454.0" y="70.1" font-size="10.5">t</text>
<text x="465.7" y="67.3" font-size="12">= 0.63 eV</text>
<line x1="425.3" y1="83.8" x2="444" y2="83.8" stroke="#0000ff" stroke-width="2.2" stroke-dasharray="7.5 2.5 1.8 3.2"/>
<text x="447.4" y="85.60000000000001" class="sym" font-size="11.5">&#915;</text>
<text x="454.0" y="89.0" font-size="10.5">t</text>
<text x="461.6" y="86.2" font-size="12">= 0.72 eV</text>
<g transform="translate(20.6,78.0) rotate(-90)"><text x="0" y="0" font-size="16.3">T</text><text x="10.6" y="7.2" font-size="9.8">LR</text><text x="24.0" y="0.3" class="sym" font-size="16.5" letter-spacing="0.4" style="font-weight:bold">(<tspan style="font-weight:normal">&#949;</tspan>)</text></g>
<g transform="translate(18.2,211.0) rotate(-90)"><text x="0" y="0" font-size="16.3">T</text><text x="10.6" y="7.2" font-size="9.8">LR</text><text x="24.0" y="0.3" class="sym" font-size="16.5" letter-spacing="0.4" style="font-weight:bold">(<tspan style="font-weight:normal">&#949;</tspan>)</text></g>
<text x="275.8" y="127.2" class="sym" font-size="14.5">&#949;</text>
<text x="287.6" y="127.2" font-size="15.5">(eV)</text>
<text x="275.8" y="254.7" class="sym" font-size="14.5">&#949;</text>
<text x="287.6" y="254.7" font-size="15.5">(eV)</text>
<g transform="translate(24.4,342.5) rotate(-90)"><text x="0" y="0" font-size="16">ZT</text><text x="22" y="5" font-size="16">max</text></g>
<text x="251.3" y="391.6" class="sym" font-size="15">&#915;</text>
<text x="259.6" y="395.6" font-size="16">t</text>
<text x="270.4" y="391.6" font-size="17.2">(eV)</text>
<rect x="125.6" y="294.3" width="45.6" height="32.5" fill="#fff" stroke="#b8b8b8" stroke-width="1.1"/>
<line x1="128.7" y1="304.6" x2="147.2" y2="304.6" stroke="#000" stroke-width="2"/>
<line x1="128.5" y1="320.3" x2="146.5" y2="320.3" stroke="#ff0000" stroke-width="2" stroke-dasharray="6 6"/>
<text x="150.6" y="309.1" class="tl">(a)</text>
<text x="151.8" y="324.9" class="tl">(b)</text>
<text x="253" y="333.3" class="sym" font-size="11">&#956;</text>
<text x="265.8" y="333.3" font-size="11.9">= 0.423 eV</text>
<text x="385.3" y="331.4" font-size="11.3">k</text>
<text x="391.8" y="334.8" font-size="11.6">B</text>
<text x="400.2" y="331.4" font-size="11.8">T</text>
<text x="410.9" y="331.4" font-size="11.8">= 27 meV</text>
</svg>
</body></html>
